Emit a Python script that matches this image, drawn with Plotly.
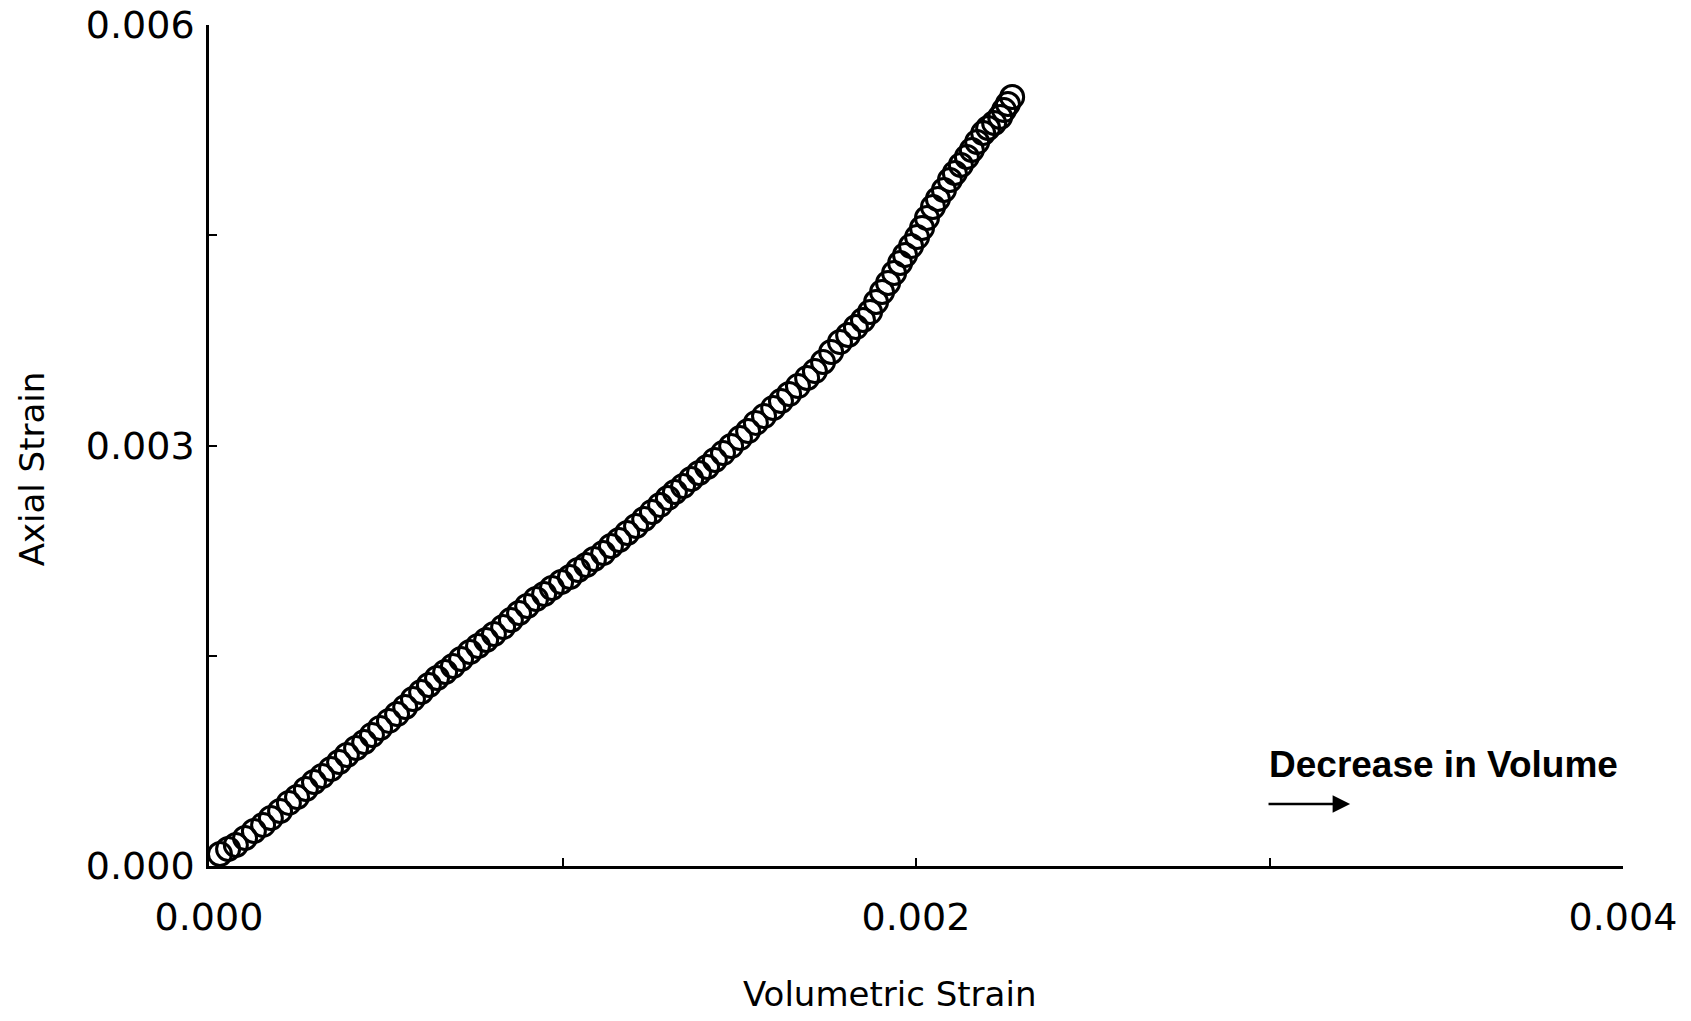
import plotly.graph_objects as go

# Volumetric strain (x) and axial strain (y)
volumetric_strain = [
    0.000031, 0.000054, 0.000076, 0.000102, 0.000127, 0.000153, 0.000175, 0.000201,
    0.000226, 0.000249, 0.000274, 0.000297, 0.000320, 0.000345, 0.000368, 0.000390,
    0.000416, 0.000439, 0.000461, 0.000484, 0.000509, 0.000532, 0.000555, 0.000577,
    0.000600, 0.000622, 0.000645, 0.000668, 0.000690, 0.000713, 0.000738, 0.000761,
    0.000784, 0.000806, 0.000832, 0.000854, 0.000877, 0.000900, 0.000925, 0.000948,
    0.000970, 0.000996, 0.001021, 0.001044, 0.001067, 0.001089, 0.001115, 0.001137,
    0.001160, 0.001183, 0.001208, 0.001231, 0.001253, 0.001276, 0.001298, 0.001318,
    0.001341, 0.001364, 0.001386, 0.001409, 0.001431, 0.001454, 0.001477, 0.001502,
    0.001525, 0.001547, 0.001570, 0.001596, 0.001618, 0.001641, 0.001666, 0.001692,
    0.001714, 0.001737, 0.001760, 0.001785, 0.001808, 0.001830, 0.001850, 0.001870,
    0.001887, 0.001904, 0.001921, 0.001938, 0.001955, 0.001969, 0.001986, 0.002003,
    0.002017, 0.002031, 0.002048, 0.002062, 0.002079, 0.002096, 0.002110, 0.002127,
    0.002144, 0.002158, 0.002173, 0.002190, 0.002204, 0.002221, 0.002238, 0.002249,
    0.002260, 0.002272,
]
axial_strain = [
    0.000086, 0.000121, 0.000150, 0.000200, 0.000250, 0.000293, 0.000342, 0.000392,
    0.000450, 0.000492, 0.000549, 0.000599, 0.000642, 0.000692, 0.000742, 0.000792,
    0.000842, 0.000885, 0.000935, 0.000985, 0.001035, 0.001084, 0.001134, 0.001191,
    0.001241, 0.001291, 0.001341, 0.001384, 0.001427, 0.001477, 0.001527, 0.001570,
    0.001612, 0.001655, 0.001705, 0.001755, 0.001805, 0.001855, 0.001905, 0.001941,
    0.001983, 0.002026, 0.002062, 0.002112, 0.002147, 0.002190, 0.002233, 0.002283,
    0.002326, 0.002376, 0.002426, 0.002476, 0.002526, 0.002576, 0.002625, 0.002668,
    0.002711, 0.002761, 0.002804, 0.002847, 0.002897, 0.002946, 0.002996, 0.003053,
    0.003103, 0.003161, 0.003210, 0.003268, 0.003317, 0.003367, 0.003424, 0.003482,
    0.003531, 0.003596, 0.003667, 0.003738, 0.003788, 0.003845, 0.003895, 0.003952,
    0.004024, 0.004095, 0.004159, 0.004231, 0.004302, 0.004359, 0.004423, 0.004487,
    0.004552, 0.004623, 0.004702, 0.004759, 0.004823, 0.004894, 0.004944, 0.005001,
    0.005058, 0.005108, 0.005165, 0.005229, 0.005265, 0.005301, 0.005344, 0.005393,
    0.005436, 0.005486,
]

x_tick_vals = [0.0, 0.001, 0.002, 0.003, 0.004]
x_tick_text = ["0.000", "", "0.002", "", "0.004"]
y_tick_vals = [0.0, 0.0015, 0.003, 0.0045, 0.006]
y_tick_text = ["0.000", "", "0.003", "", "0.006"]

x_title = "Volumetric Strain"
y_title = "Axial Strain"
note_text = "Decrease in Volume"
note_x, note_y = 0.002993, 0.000721
arrow_tail_x, arrow_head_x, arrow_y = 0.002993, 0.003228, 0.000442

fig = go.Figure()
fig.add_trace(go.Scatter(
    x=volumetric_strain, y=axial_strain, mode="markers",
    marker=dict(symbol="circle-open", size=23, color="black",
                line=dict(color="black", width=3)),
    showlegend=False, hoverinfo="skip",
))

tick_font = dict(family="DejaVu Sans", size=38, color="black")
title_font = dict(family="DejaVu Sans", size=34, color="black")

fig.update_layout(
    width=1691, height=1021,
    margin=dict(l=209, r=68, t=25, b=155, autoexpand=False),
    paper_bgcolor="white", plot_bgcolor="white",
    xaxis=dict(range=[0, 0.004], tickvals=x_tick_vals, ticktext=x_tick_text,
               showgrid=False, zeroline=False, showline=True, linecolor="black",
               linewidth=2.5, ticks="inside", ticklen=8, tickwidth=2,
               tickcolor="black", tickfont=tick_font, ticklabelstandoff=16,
               automargin=False),
    yaxis=dict(range=[0, 0.006], tickvals=y_tick_vals, ticktext=y_tick_text,
               showgrid=False, zeroline=False, showline=True, linecolor="black",
               linewidth=2.5, ticks="inside", ticklen=8, tickwidth=2,
               tickcolor="black", tickfont=tick_font, ticklabelstandoff=4,
               automargin=False),
    annotations=[
        dict(text=y_title, xref="paper", yref="paper", x=-0.125, y=0.472,
             textangle=-90, showarrow=False, font=title_font,
             xanchor="center", yanchor="middle"),
        dict(text=x_title, xref="paper", yref="paper", x=0.481, y=-0.152,
             showarrow=False, font=title_font, xanchor="center", yanchor="middle"),
        dict(text="<b>" + note_text + "</b>", xref="x", yref="y", x=note_x, y=note_y,
             showarrow=False, xanchor="left", yanchor="middle",
             font=dict(family="Liberation Sans", size=37, color="black")),
        dict(text="", xref="x", yref="y", x=arrow_head_x, y=arrow_y,
             axref="x", ayref="y", ax=arrow_tail_x, ay=arrow_y,
             showarrow=True, arrowhead=2, arrowsize=1.4, arrowwidth=2.5,
             arrowcolor="black"),
    ],
)

fig.write_html("out.html")
